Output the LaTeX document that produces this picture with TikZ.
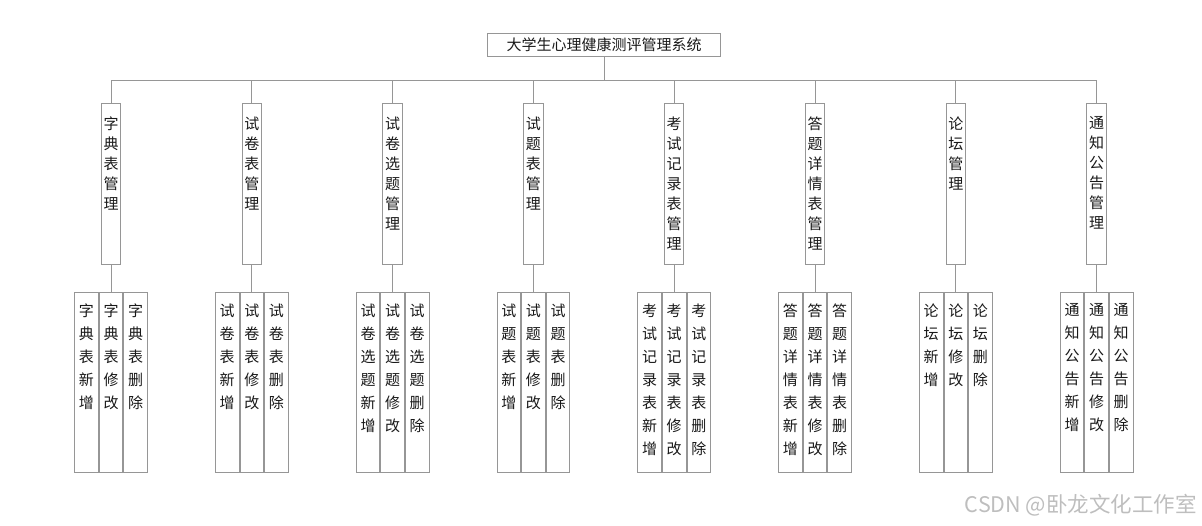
\documentclass[tikz,border=0pt]{standalone}
\usepackage{fontspec}
\setmainfont{Noto Sans CJK SC}
\definecolor{linegray}{RGB}{150,150,150}
\definecolor{txt}{RGB}{25,25,25}
\definecolor{wm}{RGB}{190,190,190}
\def\vstA#1{#1\vstB}
\def\vstB#1{\ifx\relax#1\else\par#1\expandafter\vstB\fi}
\newcommand\vst[1]{\vstA#1\relax}
\newcommand\vstx[1]{\edef\myvtmp{#1}\expandafter\vst\expandafter{\myvtmp}}
\begin{document}
\begin{tikzpicture}[x=1pt,y=-1pt,
  box/.style={draw=linegray,line width=0.9pt,fill=white,inner sep=0pt,minimum width=19.4pt,minimum height=160.7pt,anchor=north},
  leaf/.style={draw=linegray,line width=0.9pt,fill=white,inner sep=0pt,minimum width=23.7pt,minimum height=179.4pt,anchor=north},
  vtext/.style={inner sep=0pt,anchor=north,text=txt,text width=16pt,align=center},
  conn/.style={draw=linegray,line width=0.9pt}]
\useasboundingbox (0,0) rectangle (1202,526);
\node[draw=linegray,line width=0.9pt,minimum width=233pt,minimum height=23.4pt,inner sep=0pt,text=txt,font=\fontsize{15}{18}\selectfont] (title) at (604.2,45) {大学生心理健康测评管理系统};
\coordinate (bus) at (604.2,80);
\draw[conn] (title.south) -- (bus);
\foreach \i/\cx/\nm/\pre in {1/111/字典表管理/字典表,2/251.8/试卷表管理/试卷表,3/392.6/试卷选题管理/试卷选题,4/533.4/试题表管理/试题表,5/674.2/考试记录表管理/考试记录表,6/815/答题详情表管理/答题详情表,7/955.8/论坛管理/论坛,8/1096.6/通知公告管理/通知公告}{
  \node[box] (m\i) at (\cx,103.3) {};
  \node[vtext,font=\fontsize{15}{20}\selectfont] (mt\i) at ([yshift=-13pt]m\i.north) {\vstx{\nm}};
  \draw[conn] (bus) -| (m\i.north);
  \node[leaf] (b\i) at (\cx,292.3) {};
  \node[leaf,anchor=north east] (a\i) at (b\i.north west) {};
  \node[leaf,anchor=north west] (c\i) at (b\i.north east) {};
  \node[vtext,font=\fontsize{15}{23}\selectfont] (at\i) at ([yshift=-11pt]a\i.north) {\vstx{\pre 新增}};
  \node[vtext,font=\fontsize{15}{23}\selectfont] (bt\i) at ([yshift=-11pt]b\i.north) {\vstx{\pre 修改}};
  \node[vtext,font=\fontsize{15}{23}\selectfont] (ct\i) at ([yshift=-11pt]c\i.north) {\vstx{\pre 删除}};
  \draw[conn] (m\i.south) -- (b\i.north);
}
\node[text=wm,inner sep=0pt,anchor=east,font=\fontsize{21.5}{24}\selectfont] (wmk) at (1197,505) {CSDN @卧龙文化工作室};
\end{tikzpicture}
\end{document}
